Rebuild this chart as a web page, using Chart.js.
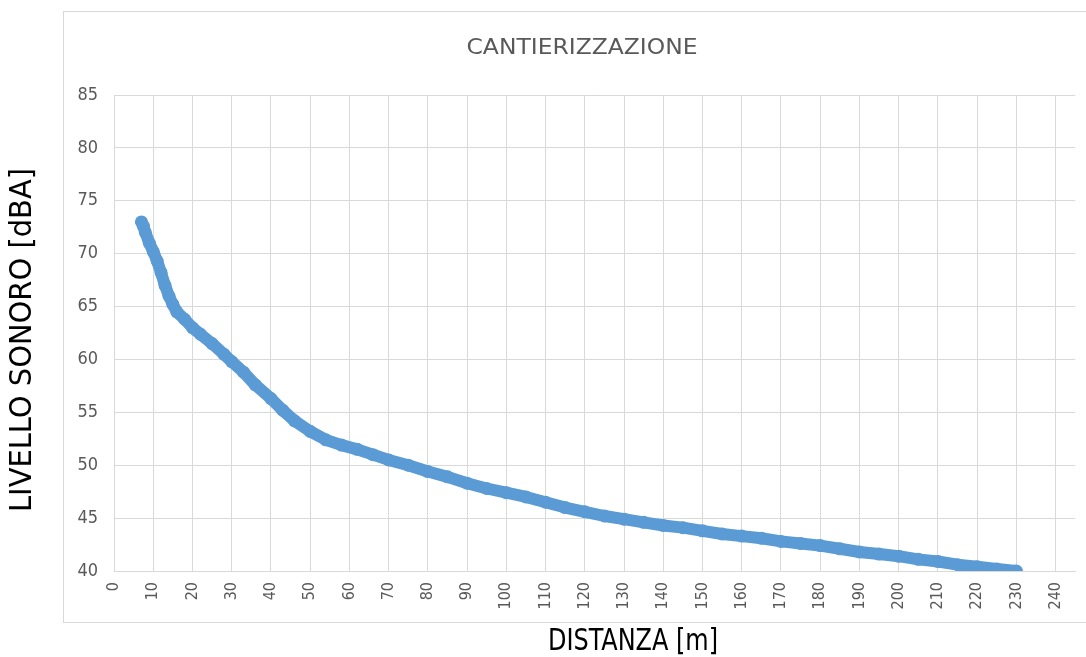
<!DOCTYPE html>
<html>
<head>
<meta charset="utf-8">
<script src="https://cdn.jsdelivr.net/npm/chart.js@4"></script>
<style>
  html, body { margin: 0; padding: 0; background: #fff; }
  #wrap { width: 1086px; height: 657px; }
</style>
</head>
<body>
<div id="wrap"><canvas id="chart" width="1086" height="657"></canvas></div>
<script>
// distance [m] and sound level [dBA]
const distanza = [7, 7.5, 8, 9, 10, 11, 12, 13, 14, 15, 16, 18, 20, 22, 25, 28, 30, 33, 36, 40,
  43, 46, 50, 54, 58, 62, 66, 70, 75, 80, 85, 90, 95, 100, 105, 110, 115, 120, 125, 130,
  135, 140, 145, 150, 155, 160, 165, 170, 175, 180, 185, 190, 195, 200, 205, 210, 215, 220, 225, 230];
const livello = [73, 72.6, 72, 71, 70.2, 69.3, 68.2, 67, 66, 65.2, 64.5, 63.8, 63, 62.4, 61.5, 60.5, 59.8, 58.8, 57.6, 56.3,
  55.2, 54.2, 53.2, 52.4, 51.9, 51.5, 51, 50.5, 50, 49.4, 48.9, 48.3, 47.8, 47.4, 47, 46.5, 46, 45.6, 45.2, 44.9,
  44.6, 44.3, 44.1, 43.8, 43.5, 43.3, 43.1, 42.8, 42.6, 42.4, 42.1, 41.8, 41.6, 41.4, 41.1, 40.9, 40.6, 40.4, 40.2, 40];

const titolo = "CANTIERIZZAZIONE";
const titoloX = "DISTANZA [m]";
const titoloY = "LIVELLO SONORO [dBA]";

const narrow = "'Liberation Sans Narrow', 'Arial Narrow', 'DejaVu Sans Condensed', sans-serif";
const blue = "#5B9BD5";
const grid = "#d9d9d9";

const points = distanza.map((d, i) => ({ x: d, y: livello[i] }));

// text squeezed/stretched to the width it has in the Excel picture
function fitText(c, txt, x, y, w, rot) {
  c.save();
  c.translate(x, y);
  if (rot) c.rotate(rot);
  const m = c.measureText(txt).width;
  c.scale(w / m, 1);
  c.fillText(txt, 0, 0);
  c.restore();
}

// frame + titles drawn like the Excel chart
const decor = {
  id: "decor",
  beforeDraw(chart) {
    const c = chart.ctx;
    c.save();
    c.fillStyle = "#fff";
    c.fillRect(0, 0, chart.width, chart.height);
    c.strokeStyle = grid;
    c.lineWidth = 1;
    c.strokeRect(63.5, 11.5, 1040, 611);
    c.restore();
  },
  afterDraw(chart) {
    const c = chart.ctx;
    c.save();
    c.textAlign = "center";
    c.textBaseline = "middle";
    c.fillStyle = "#595959";
    c.font = "21px " + narrow;
    fitText(c, titolo, 582, 49, 231, 0);
    c.fillStyle = "#000";
    c.font = "31px " + narrow;
    fitText(c, titoloX, 633, 642, 170, 0);
    fitText(c, titoloY, 23, 340, 344, -Math.PI / 2);
    c.restore();
  }
};

new Chart(document.getElementById("chart"), {
  type: "scatter",
  data: {
    datasets: [{
      data: points,
      showLine: true,
      borderColor: blue,
      backgroundColor: blue,
      borderWidth: 12,
      borderCapStyle: "round",
      borderJoinStyle: "round",
      pointRadius: 6.5,
      pointBorderWidth: 0,
      tension: 0
    }]
  },
  options: {
    responsive: false,
    animation: false,
    layout: { padding: { left: 0, top: 95, right: 9, bottom: 0 } },
    plugins: { legend: { display: false }, tooltip: { enabled: false } },
    scales: {
      x: {
        type: "linear",
        min: 0,
        max: 245,
        afterBuildTicks(s) { s.ticks = s.ticks.filter(t => t.value <= 240 && t.value % 10 === 0); },
        afterFit(s) { s.height = 86; },
        ticks: {
          stepSize: 10,
          autoSkip: false,
          minRotation: 90,
          maxRotation: 90,
          padding: 11,
          color: "#595959",
          font: { family: narrow, size: 16 }
        },
        grid: { color: grid, drawTicks: false },
        border: { color: grid }
      },
      y: {
        min: 40,
        max: 85,
        afterFit(s) { s.width = 114; },
        ticks: {
          stepSize: 5,
          padding: 16,
          color: "#595959",
          font: { family: narrow, size: 18 }
        },
        grid: { color: grid, drawTicks: false },
        border: { color: grid }
      }
    }
  },
  plugins: [decor]
});
</script>
</body>
</html>
